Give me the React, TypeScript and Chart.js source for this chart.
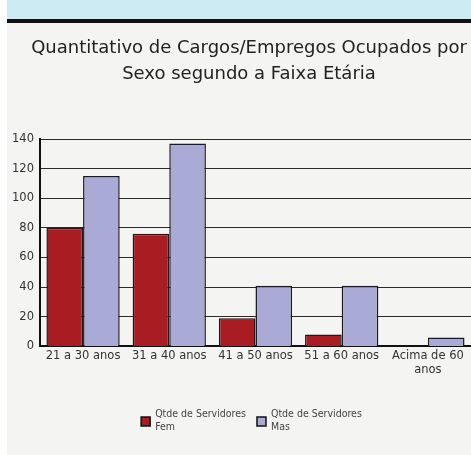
import React, { useEffect, useRef } from "react";
import { Chart, registerables } from "chart.js";

Chart.register(...registerables);

const titleLines = ["Quantitativo de Cargos/Empregos Ocupados por", "Sexo segundo a Faixa Etária"];
const categories: (string | string[])[] = ["21 a 30 anos", "31 a 40 anos", "41 a 50 anos", "51 a 60 anos", ["Acima de 60", "anos"]];
const seriesNames = ["Qtde de Servidores Fem", "Qtde de Servidores Mas"];
const femValues = [80, 76, 19, 8, 0];
const masValues = [115, 137, 41, 41, 6];
const seriesColors = ["#a81c22", "#aaaad6"];
const yTicks = { min: 0, max: 140, step: 20 };

const titlePlugin = {
  id: "offsetTitle",
  afterDraw(chart: any) {
    const ctx = chart.ctx;
    ctx.save();
    ctx.font = "18px 'DejaVu Sans', sans-serif";
    ctx.fillStyle = "#222";
    ctx.textAlign = "center";
    ctx.textBaseline = "middle";
    const cx = chart.width / 2 + 10;
    titleLines.forEach((t, i) => ctx.fillText(t, cx, 25 + i * 26));
    ctx.restore();
  },
};

const legendPlugin = {
  id: "wrappedLegend",
  afterDraw(chart: any) {
    const ctx = chart.ctx;
    const ds = chart.data.datasets;
    ctx.save();
    ctx.font = "10.5px 'DejaVu Sans Condensed', 'DejaVu Sans', sans-serif";
    const box = 9;
    const gap = 5;
    const itemGap = 11;
    const items = ds.map((d: any) => {
      const label: string = d.label;
      const idx = label.lastIndexOf(" ");
      const lines = [label.slice(0, idx), label.slice(idx + 1)];
      const w = Math.max(...lines.map((l) => ctx.measureText(l).width));
      return { lines, w, color: d.backgroundColor };
    });
    const total = items.reduce((s: number, it: any) => s + box + gap + it.w, 0) + itemGap * (items.length - 1);
    const ca = chart.chartArea;
    let x = (ca.left + ca.right) / 2 - total / 2 - 4;
    const y0 = 391;
    items.forEach((it: any) => {
      ctx.fillStyle = it.color;
      ctx.fillRect(x, y0 + 3, box, box);
      ctx.strokeStyle = "#111";
      ctx.lineWidth = 1.5;
      ctx.strokeRect(x, y0 + 3, box, box);
      ctx.fillStyle = "#444";
      ctx.textBaseline = "middle";
      ctx.textAlign = "left";
      it.lines.forEach((l: string, i: number) => {
        ctx.fillText(l, x + box + gap, y0 + i * 13.5);
      });
      x += box + gap + it.w + itemGap;
    });
    ctx.restore();
  },
};

export default function App() {
  const ref = useRef<HTMLCanvasElement | null>(null);
  useEffect(() => {
    if (!ref.current) return;
    const chart = new Chart(ref.current, {
      type: "bar",
      data: {
        labels: categories,
        datasets: [
          {
            label: seriesNames[0],
            data: femValues,
            backgroundColor: seriesColors[0],
            borderColor: "#1a1a1a",
            borderWidth: 1.5,
            barPercentage: 1,
            categoryPercentage: 0.85,
          },
          {
            label: seriesNames[1],
            data: masValues,
            backgroundColor: seriesColors[1],
            borderColor: "#1a1a1a",
            borderWidth: 1.5,
            barPercentage: 1,
            categoryPercentage: 0.85,
          },
        ],
      },
      options: {
        animation: false,
        responsive: false,
        maintainAspectRatio: false,
        layout: { padding: { left: -1, right: 0, top: 116, bottom: 75 } },
        plugins: {
          legend: { display: false },
          tooltip: { enabled: false },
          title: { display: false },
        },
        scales: {
          x: {
            grid: { display: false, drawTicks: false },
            border: { display: true, color: "#111", width: 2 },
            ticks: {
              color: "#333",
              font: { family: "'DejaVu Sans', sans-serif", size: 11.5 },
              padding: 3,
              maxRotation: 0,
              autoSkip: false,
            },
          },
          y: {
            min: yTicks.min,
            max: yTicks.max,
            grid: { color: "#2a2a2a", lineWidth: 1, drawTicks: false },
            border: { display: true, color: "#111", width: 2 },
            ticks: {
              stepSize: yTicks.step,
              color: "#333",
              font: { family: "'DejaVu Sans', sans-serif", size: 11.5 },
              padding: 6,
            },
          },
        },
      },
      plugins: [titlePlugin, legendPlugin],
    });
    return () => chart.destroy();
  }, []);

  return (
    <div style={{ position: "absolute", left: 7, top: 0, width: 464, height: 455, background: "#f4f4f2" }}>
      <div style={{ height: 19, background: "#cdebf2" }} />
      <div style={{ height: 4, background: "#111" }} />
      <canvas ref={ref} width={464} height={432} style={{ display: "block", width: 464, height: 432 }} />
    </div>
  );
}
